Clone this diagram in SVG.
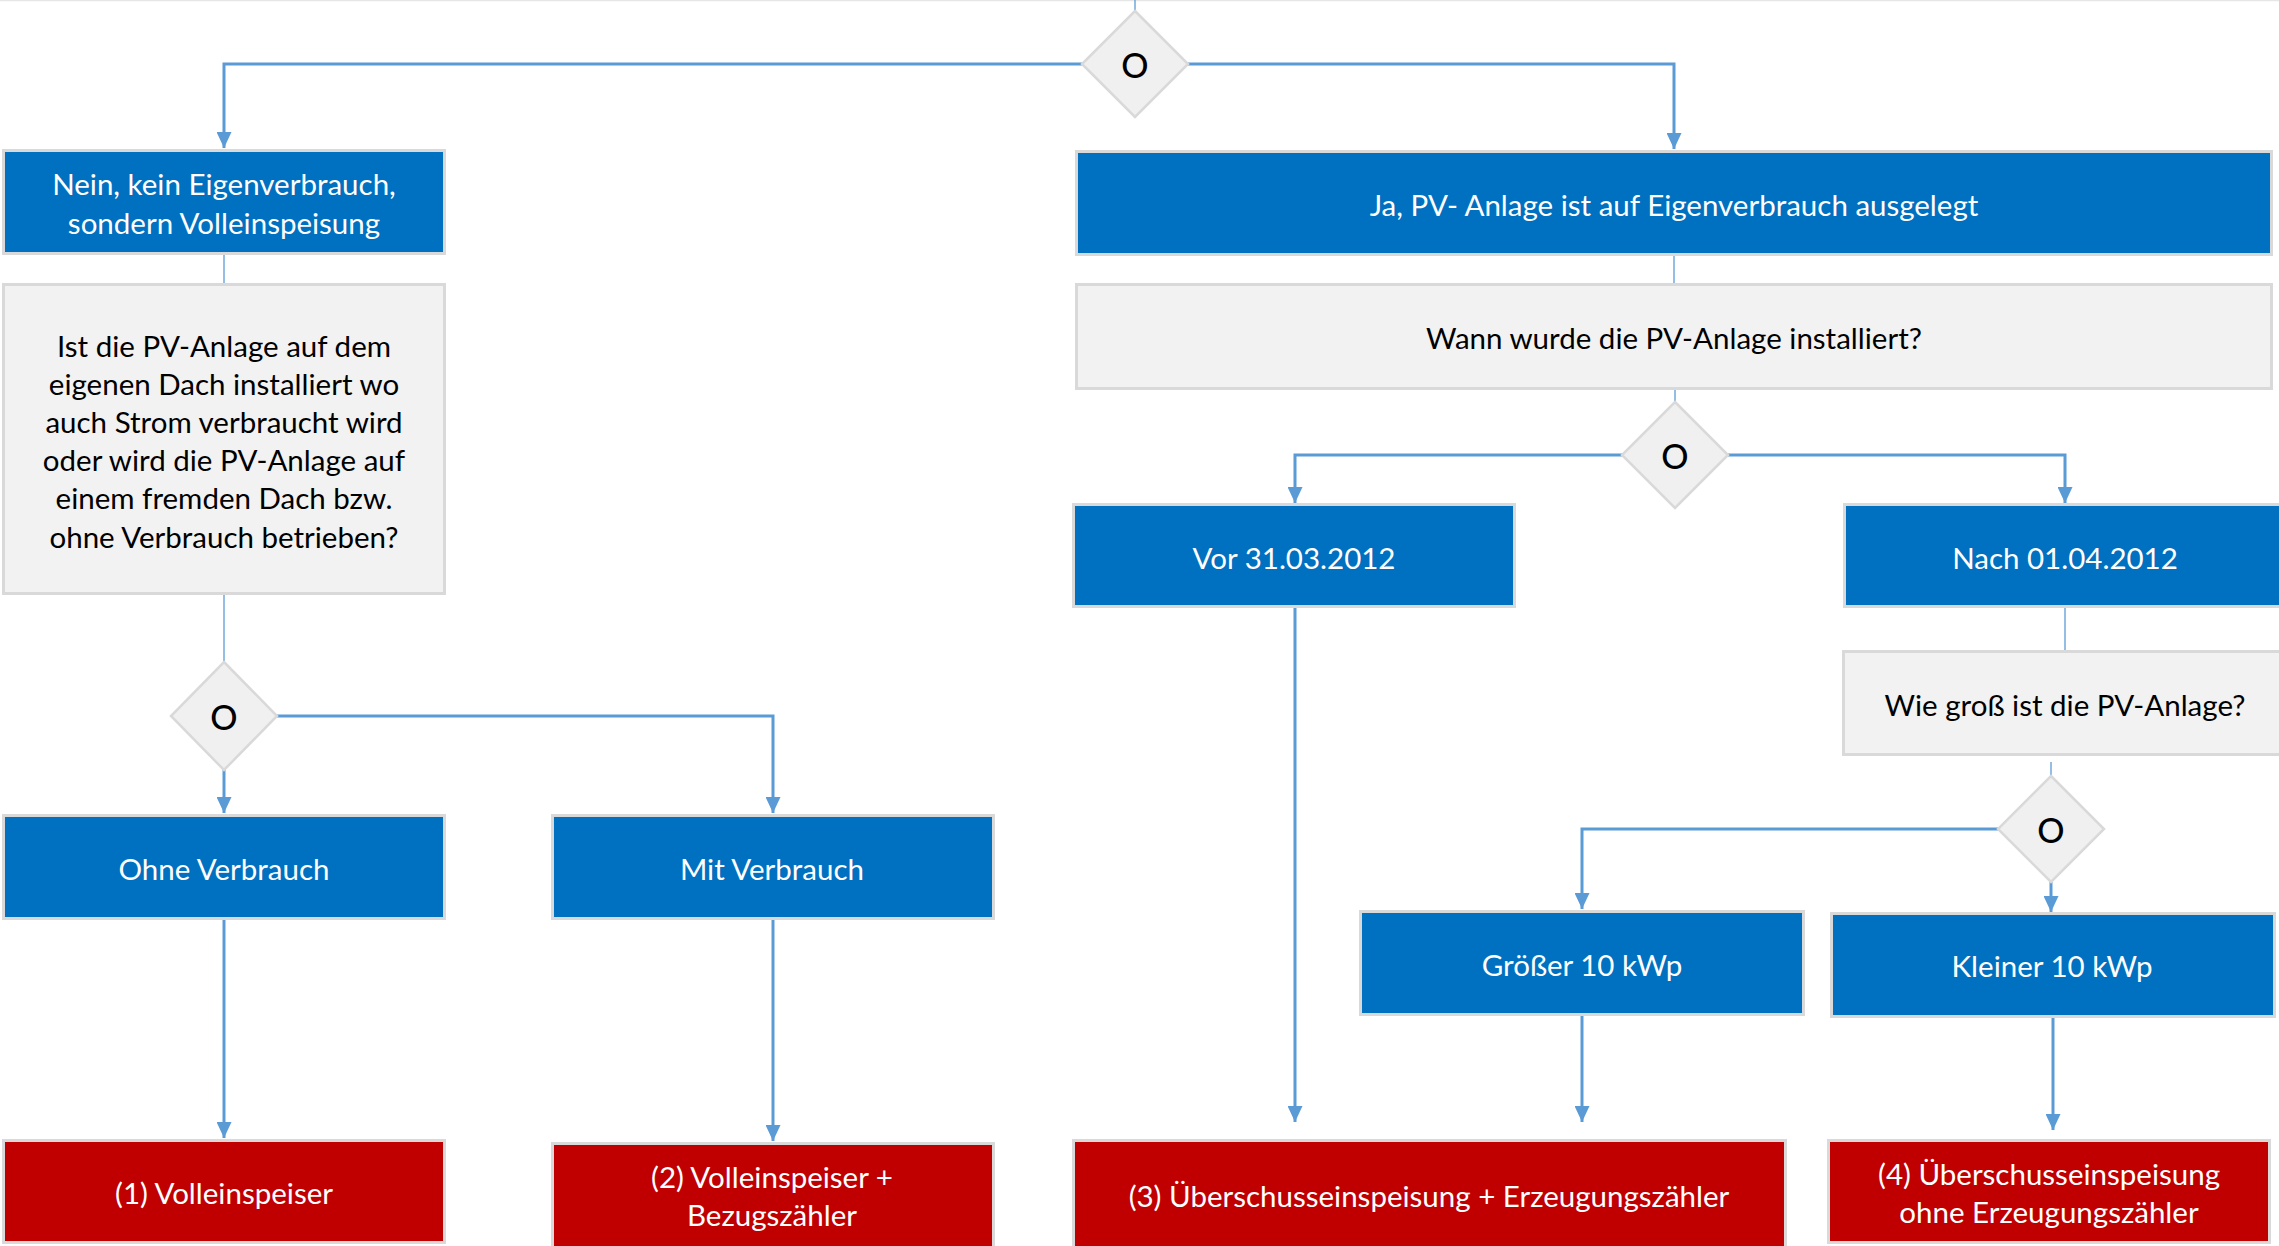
<svg xmlns="http://www.w3.org/2000/svg" width="2279" height="1246" viewBox="0 0 2279 1246">
<style>
  .blue{fill:#0070C0;stroke:#D9D9D9;stroke-width:3}
  .red{fill:#C00000;stroke:#D9D9D9;stroke-width:3}
  .gray{fill:#F2F2F2;stroke:#D9D9D9;stroke-width:3}
  .dia{fill:#F0F0F0;stroke:#D9D9D9;stroke-width:2.5}
  .tw{fill:#FFFFFF;font-family:Lato,"Liberation Sans",sans-serif;font-size:29.5px;text-anchor:middle;dominant-baseline:central}
  .tb{fill:#000000;font-family:Lato,"Liberation Sans",sans-serif;font-size:29.5px;text-anchor:middle;dominant-baseline:central}
  .to{fill:#000000;font-family:Lato,"Liberation Sans",sans-serif;font-size:34px;font-weight:500;text-anchor:middle;dominant-baseline:central}
  .c{fill:none;stroke:#5B9BD5;stroke-width:3}
  .ct{fill:none;stroke:#5B9BD5;stroke-width:1.3}
</style>
<defs>
  <marker id="arr" markerUnits="userSpaceOnUse" markerWidth="16" markerHeight="15" refX="16" refY="7.5" orient="auto">
    <path d="M0,0 L16,7.5 L0,15 z" fill="#5B9BD5"/>
  </marker>
</defs>
<rect x="0" y="0" width="2279" height="1246" fill="#FFFFFF"/>
<line x1="0" y1="0.5" x2="2279" y2="0.5" stroke="#E6E6E6" stroke-width="1.5"/>

<g id="connectors">
  <path class="ct" d="M1135,0 V11"/>
  <path class="c" d="M1082,64 H224 V148" marker-end="url(#arr)"/>
  <path class="c" d="M1188,64 H1674 V149" marker-end="url(#arr)"/>
  <path class="ct" d="M224,255 V283"/>
  <path class="ct" d="M224,595 V662"/>
  <path class="c" d="M277,716 H773 V813" marker-end="url(#arr)"/>
  <path class="c" d="M224,769 V813" marker-end="url(#arr)"/>
  <path class="c" d="M224,920 V1138" marker-end="url(#arr)"/>
  <path class="c" d="M773,920 V1141" marker-end="url(#arr)"/>
  <path class="ct" d="M1674,256 V283"/>
  <path class="ct" d="M1675,390 V402"/>
  <path class="c" d="M1622,455 H1295 V503" marker-end="url(#arr)"/>
  <path class="c" d="M1728,455 H2065 V503" marker-end="url(#arr)"/>
  <path class="ct" d="M2065,608 V650"/>
  <path class="ct" d="M2051,762 V776"/>
  <path class="c" d="M1998,829 H1582 V909" marker-end="url(#arr)"/>
  <path class="c" d="M2051,882 V912" marker-end="url(#arr)"/>
  <path class="c" d="M1295,608 V1122" marker-end="url(#arr)"/>
  <path class="c" d="M1582,1016 V1122" marker-end="url(#arr)"/>
  <path class="c" d="M2053,1018 V1130" marker-end="url(#arr)"/>
</g>

<g id="d1"><path class="dia" d="M1135,11 L1188,64 L1135,117 L1082,64 z"/><text class="to" x="1135" y="64">O</text></g>
<g id="d2"><path class="dia" d="M1675,402 L1728,455 L1675,508 L1622,455 z"/><text class="to" x="1675" y="455">O</text></g>
<g id="d3"><path class="dia" d="M224,662 L277,716 L224,770 L171,716 z"/><text class="to" x="224" y="716">O</text></g>
<g id="d4"><path class="dia" d="M2051,776 L2104,829 L2051,882 L1998,829 z"/><text class="to" x="2051" y="829">O</text></g>

<g id="nein"><rect class="blue" x="3.5" y="150.5" width="441" height="103"/>
  <text class="tw" x="224" y="183">Nein, kein Eigenverbrauch,</text>
  <text class="tw" x="224" y="222">sondern Volleinspeisung</text></g>
<g id="frage1"><rect class="gray" x="3.5" y="284.5" width="441" height="309"/>
  <text class="tb" x="224" y="345">Ist die PV-Anlage auf dem</text>
  <text class="tb" x="224" y="383">eigenen Dach installiert wo</text>
  <text class="tb" x="224" y="421.5">auch Strom verbraucht wird</text>
  <text class="tb" x="224" y="459.5">oder wird die PV-Anlage auf</text>
  <text class="tb" x="224" y="497.5">einem fremden Dach bzw.</text>
  <text class="tb" x="224" y="536">ohne Verbrauch betrieben?</text></g>
<g id="ja"><rect class="blue" x="1076.5" y="151.5" width="1195" height="103"/>
  <text class="tw" x="1674" y="204">Ja, PV- Anlage ist auf Eigenverbrauch ausgelegt</text></g>
<g id="wann"><rect class="gray" x="1076.5" y="284.5" width="1195" height="104"/>
  <text class="tb" x="1674" y="337">Wann wurde die PV-Anlage installiert?</text></g>
<g id="vor"><rect class="blue" x="1073.5" y="504.5" width="441" height="102"/>
  <text class="tw" x="1294" y="557">Vor 31.03.2012</text></g>
<g id="nach"><rect class="blue" x="1844.5" y="504.5" width="441" height="102"/>
  <text class="tw" x="2065" y="557">Nach 01.04.2012</text></g>
<g id="wie"><rect class="gray" x="1843.5" y="651.5" width="441" height="103"/>
  <text class="tb" x="2065" y="704">Wie groß ist die PV-Anlage?</text></g>
<g id="ohne"><rect class="blue" x="3.5" y="815.5" width="441" height="103"/>
  <text class="tw" x="224" y="868">Ohne Verbrauch</text></g>
<g id="mit"><rect class="blue" x="552.5" y="815.5" width="441" height="103"/>
  <text class="tw" x="772" y="868">Mit Verbrauch</text></g>
<g id="groesser"><rect class="blue" x="1360.5" y="911.5" width="443" height="103"/>
  <text class="tw" x="1582" y="964">Größer 10 kWp</text></g>
<g id="kleiner"><rect class="blue" x="1831.5" y="913.5" width="443" height="103"/>
  <text class="tw" x="2052" y="965">Kleiner 10 kWp</text></g>
<g id="r1"><rect class="red" x="3.5" y="1140.5" width="441" height="102"/>
  <text class="tw" x="224" y="1192">(1) Volleinspeiser</text></g>
<g id="r2"><rect class="red" x="552.5" y="1143.5" width="441" height="104"/>
  <text class="tw" x="772" y="1176">(2) Volleinspeiser +</text>
  <text class="tw" x="772" y="1214">Bezugszähler</text></g>
<g id="r3"><rect class="red" x="1073.5" y="1140.5" width="712" height="107"/>
  <text class="tw" x="1429" y="1195">(3) Überschusseinspeisung + Erzeugungszähler</text></g>
<g id="r4"><rect class="red" x="1828.5" y="1140.5" width="441" height="102"/>
  <text class="tw" x="2049" y="1173">(4) Überschusseinspeisung</text>
  <text class="tw" x="2049" y="1211">ohne Erzeugungszähler</text></g>
</svg>
